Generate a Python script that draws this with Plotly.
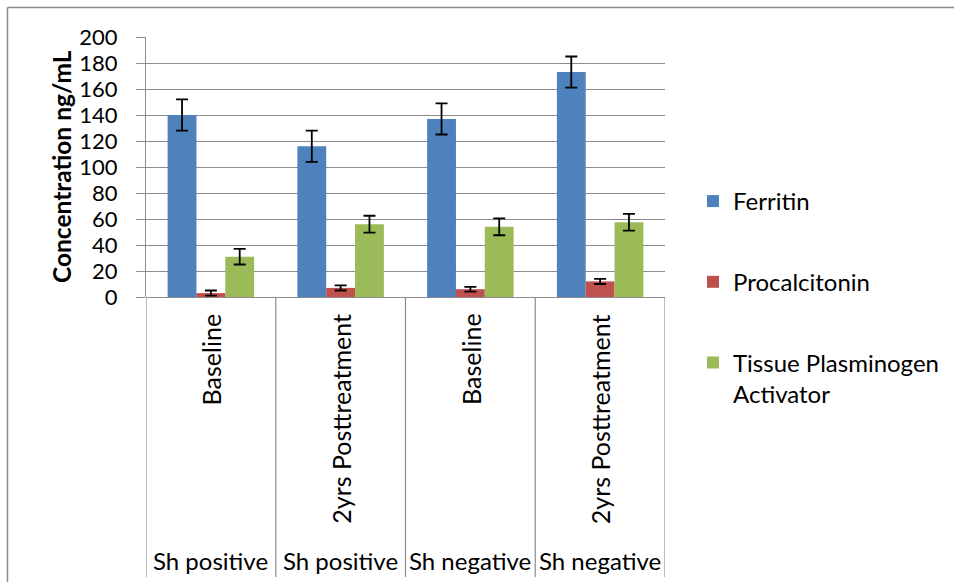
import plotly.graph_objects as go

# ---- data ----
groups = ["Sh positive", "Sh positive", "Sh negative", "Sh negative"]
timepoints = ["Baseline", "2yrs Posttreatment", "Baseline", "2yrs Posttreatment"]
ferritin = [140, 116, 137, 173]
ferritin_err = [12, 12, 12, 12]
procalcitonin = [3, 7, 6, 12]
procalcitonin_err = [2, 2, 1.8, 2]
tpa = [31, 56, 54, 57.5]
tpa_err = [6, 6.5, 6.5, 6.5]
series_names = ["Ferritin", "Procalcitonin", "Tissue Plasminogen<br>Activator"]
y_ticks = [0, 20, 40, 60, 80, 100, 120, 140, 160, 180, 200]
y_title = "Concentration ng/mL"

# ---- layout geometry (pixels) ----
W, H = 954, 582
PL, PR, PT, PB = 146, 665, 37, 297
FONT = "Lato"
GRID = "#8c8c8c"
colors = ["#4F81BD", "#C0504D", "#9BBB59"]

def px_x(px):
    return (px - PL) / (PR - PL)

def px_y(py):
    return (PB - py) / (PB - PT)

xpos = list(range(len(timepoints)))
values = [ferritin, procalcitonin, tpa]
errors = [ferritin_err, procalcitonin_err, tpa_err]

fig = go.Figure()
for i, (name, vals, errs) in enumerate(zip(series_names, values, errors)):
    fig.add_trace(go.Bar(
        x=xpos, y=vals, name=name,
        marker=dict(color=colors[i], line=dict(width=0)),
        error_y=dict(type="data", array=errs, visible=True,
                     color="black", thickness=1.8, width=6),
        legendgroup=f"g{i}",
    ))

shapes = []
# category dividers below the axis
for k in range(len(timepoints) + 1):
    shapes.append(dict(type="line", xref="x", yref="paper",
                       x0=k - 0.5, x1=k - 0.5, y0=0, y1=px_y(577),
                       line=dict(color=GRID, width=1.2)))
# outer chart border (top and left only)
shapes.append(dict(type="line", xref="paper", yref="paper",
                   x0=px_x(7.5), x1=px_x(W), y0=px_y(7.5), y1=px_y(7.5),
                   line=dict(color="#8a8a8a", width=1.5)))
shapes.append(dict(type="line", xref="paper", yref="paper",
                   x0=px_x(7.5), x1=px_x(7.5), y0=px_y(7.5), y1=px_y(H),
                   line=dict(color="#8a8a8a", width=1.5)))

annotations = []
for k, (tp, g) in enumerate(zip(timepoints, groups)):
    annotations.append(dict(x=k, xref="x", y=px_y(312), yref="paper",
                            text=tp, textangle=-90, showarrow=False,
                            xanchor="center", yanchor="top",
                            font=dict(family=FONT, size=25, color="black")))
    annotations.append(dict(x=k, xref="x", y=px_y(560), yref="paper",
                            text=g, showarrow=False,
                            xanchor="center", yanchor="middle",
                            font=dict(family=FONT, size=24, color="black")))
annotations.append(dict(x=px_x(61), xref="paper", y=0.5, yref="paper",
                        text=f"<b>{y_title}</b>", textangle=-90, showarrow=False,
                        xanchor="center", yanchor="middle",
                        font=dict(family=FONT, size=24.5, color="black")))

fig.update_layout(
    width=W, height=H,
    margin=dict(l=PL, r=W - PR, t=PT, b=H - PB, pad=0, autoexpand=False),
    paper_bgcolor="white", plot_bgcolor="white",
    barmode="group", bargap=1/3, bargroupgap=0,
    font=dict(family=FONT, size=22, color="black"),
    showlegend=True,
    legend=dict(x=px_x(693), xanchor="left", y=px_y(179), yanchor="top",
                font=dict(family=FONT, size=24, color="black"),
                tracegroupgap=46.5, valign="top", traceorder="grouped",
                bgcolor="rgba(0,0,0,0)"),
    xaxis=dict(range=[-0.5, len(timepoints) - 0.5], showticklabels=False,
               showgrid=False, zeroline=False, showline=False, ticks=""),
    yaxis=dict(range=[0, 200], tickvals=y_ticks, showgrid=True,
               gridcolor=GRID, gridwidth=1.2, zeroline=True,
               zerolinecolor=GRID, zerolinewidth=1.2,
               showline=True, linecolor=GRID, linewidth=1.2,
               ticks="outside", ticklen=9, tickcolor=GRID, tickwidth=1.2,
               ticklabelstandoff=14,
               tickfont=dict(family=FONT, size=22, color="black")),
    shapes=shapes, annotations=annotations,
)

fig.write_html("out.html", config={"displayModeBar": False},
               post_script="document.body.style.margin='0';")
